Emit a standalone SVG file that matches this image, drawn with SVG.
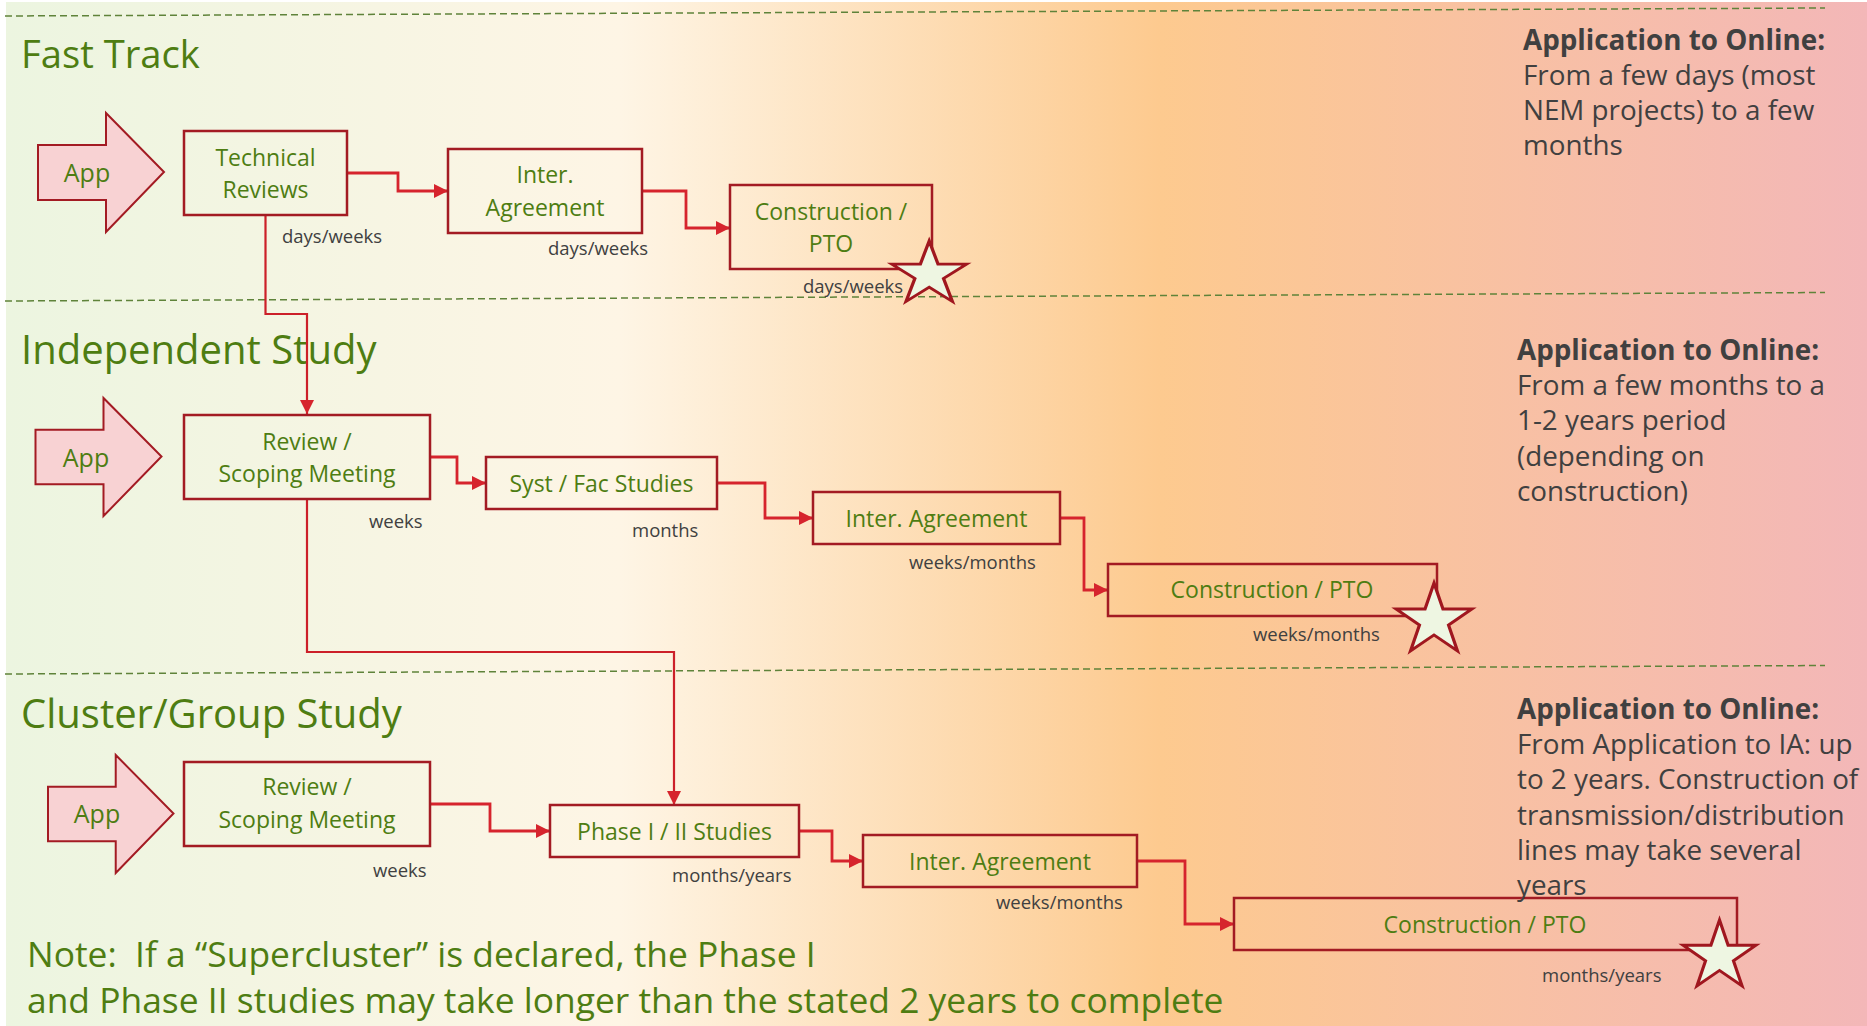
<svg xmlns="http://www.w3.org/2000/svg" xmlns:xlink="http://www.w3.org/1999/xlink" width="1867" height="1026" viewBox="0 0 1867 1026">
<defs>
<linearGradient id="bg" x1="0" y1="0" x2="1" y2="0">
<stop offset="0" stop-color="#ecf5e0"/>
<stop offset="0.33" stop-color="#fef5e5"/>
<stop offset="0.62" stop-color="#fdca8f"/>
<stop offset="1" stop-color="#f3b7b8"/>
</linearGradient>
<marker id="ah" markerUnits="userSpaceOnUse" markerWidth="15" markerHeight="15" refX="14" refY="7" orient="auto">
<path d="M0,0 L14,7 L0,14 Z" fill="#d6242d"/>
</marker>
<path id="star" d="M50,0 L61.8,38.2 L100,38.2 L69.1,61.8 L80.9,100 L50,76.4 L19.1,100 L30.9,61.8 L0,38.2 L38.2,38.2 Z"/>
<path id="apparrow" d="M0,32 H68 V0 L126,59 L68,119 V87 H0 Z"/>
</defs>
<style>
.box{fill:none;stroke:#a31b23;stroke-width:2.5}
.app{fill:#f8d2d3;stroke:#a31b23;stroke-width:2}
.star{fill:#eef6e2;stroke:#a0171f;stroke-linejoin:miter}
.t{font-family:"Open Sans","Noto Sans",sans-serif;fill:#4e7d12}
.bt{font-size:23px;text-anchor:middle}
.title{font-size:40px}
.lbl{font-family:"Open Sans","Noto Sans",sans-serif;font-size:18.5px;fill:#404040}
.side{font-family:"Open Sans","Noto Sans",sans-serif;font-size:27.8px;fill:#404040}
.sideh{font-weight:bold}
.dash{stroke:#5f833a;stroke-width:1.5;stroke-dasharray:7 4;fill:none}
.con{fill:none;stroke:#d6242d;stroke-width:2.8;marker-end:url(#ah)}
.con2{fill:none;stroke:#cc2029;stroke-width:2.2;marker-end:url(#ah)}
.note{font-size:35.4px}
</style>
<rect x="0" y="0" width="1867" height="1026" fill="#ffffff"/>
<rect x="6" y="2" width="1861" height="1024" fill="url(#bg)"/>
<g id="separators">
<line class="dash" x1="5" y1="16" x2="1825" y2="8"/>
<line class="dash" x1="5" y1="301" x2="1825" y2="292.5"/>
<line class="dash" x1="5" y1="674" x2="1825" y2="665.5"/>
</g>
<g id="titles">
<text class="t title" x="21" y="68" style="font-size:38.2px">Fast Track</text>
<text class="t title" x="21" y="364">Independent Study</text>
<text class="t title" x="21" y="728">Cluster/Group Study</text>
</g>
<g id="connectors">
<path class="con" d="M347,173 H398 V191 H448"/>
<path class="con" d="M642,191 H686 V228 H730"/>
<path class="con2" d="M265.5,215 V314 H307 V414"/>
<path class="con" d="M430,457 H457 V483 H486"/>
<path class="con" d="M717,483 H765 V518 H813"/>
<path class="con" d="M1060,518 H1084 V590 H1108"/>
<path class="con2" d="M307,499 V652 H674 V805"/>
<path class="con" d="M430,804 H490 V831 H550"/>
<path class="con" d="M799,831 H832 V861 H863"/>
<path class="con" d="M1137,861 H1185 V924 H1234"/>
</g>
<g id="ft-app"><use href="#apparrow" class="app" transform="translate(38,113)"/><text class="t bt" x="87" y="182" style="font-size:25px">App</text></g>
<g id="ft-tech"><rect class="box" x="184" y="131" width="163" height="84"/><text class="t bt" x="265.5" y="166">Technical</text><text class="t bt" x="265.5" y="198">Reviews</text></g>
<g id="ft-ia"><rect class="box" x="448" y="149" width="194" height="84"/><text class="t bt" x="545" y="183">Inter.</text><text class="t bt" x="545" y="216">Agreement</text></g>
<g id="ft-cons"><rect class="box" x="730" y="185" width="202" height="84"/><text class="t bt" x="831" y="220">Construction /</text><text class="t bt" x="831" y="252">PTO</text></g>
<g id="ft-labels">
<text class="lbl" x="282" y="243">days/weeks</text>
<text class="lbl" x="548" y="255">days/weeks</text>
<text class="lbl" x="803" y="293">days/weeks</text>
</g>
<g id="ft-star"><use href="#star" class="star" transform="translate(891.7,241) scale(0.75,0.605)" style="stroke-width:4.4"/></g>
<g id="ft-summary">
<text class="side sideh" x="1523" y="49.5">Application to Online:</text>
<text class="side" x="1523" y="84.5">From a few days (most</text>
<text class="side" x="1523" y="119.5">NEM projects) to a few</text>
<text class="side" x="1523" y="154.5">months</text>
</g>
<g id="is-app"><use href="#apparrow" class="app" transform="translate(35.5,398) scale(1,0.992)"/><text class="t bt" x="86" y="467" style="font-size:25px">App</text></g>
<g id="is-review"><rect class="box" x="184" y="415" width="246" height="84"/><text class="t bt" x="307" y="450">Review /</text><text class="t bt" x="307" y="482">Scoping Meeting</text></g>
<g id="is-syst"><rect class="box" x="486" y="457" width="231" height="52"/><text class="t bt" x="601.5" y="492">Syst / Fac Studies</text></g>
<g id="is-ia"><rect class="box" x="813" y="492" width="247" height="52"/><text class="t bt" x="936.5" y="527">Inter. Agreement</text></g>
<g id="is-cons"><rect class="box" x="1108" y="564" width="329" height="52"/><text class="t bt" x="1272" y="598">Construction / PTO</text></g>
<g id="is-labels">
<text class="lbl" x="369" y="528">weeks</text>
<text class="lbl" x="632" y="537">months</text>
<text class="lbl" x="909" y="569">weeks/months</text>
<text class="lbl" x="1253" y="641">weeks/months</text>
</g>
<g id="is-star"><use href="#star" class="star" transform="translate(1396,583) scale(0.76,0.68)" style="stroke-width:4.2"/></g>
<g id="is-summary">
<text class="side sideh" x="1517" y="359.5">Application to Online:</text>
<text class="side" x="1517" y="394.5">From a few months to a</text>
<text class="side" x="1517" y="430">1-2 years period</text>
<text class="side" x="1517" y="465.5">(depending on</text>
<text class="side" x="1517" y="500.5">construction)</text>
</g>
<g id="cl-app"><use href="#apparrow" class="app" transform="translate(48,755) scale(0.996,0.992)"/><text class="t bt" x="97" y="823" style="font-size:25px">App</text></g>
<g id="cl-review"><rect class="box" x="184" y="762" width="246" height="84"/><text class="t bt" x="307" y="795">Review /</text><text class="t bt" x="307" y="828">Scoping Meeting</text></g>
<g id="cl-phase"><rect class="box" x="550" y="805" width="249" height="52"/><text class="t bt" x="674.5" y="840">Phase I / II Studies</text></g>
<g id="cl-ia"><rect class="box" x="863" y="835" width="274" height="52"/><text class="t bt" x="1000" y="870">Inter. Agreement</text></g>
<g id="cl-cons"><rect class="box" x="1234" y="898" width="503" height="52"/><text class="t bt" x="1485" y="933">Construction / PTO</text></g>
<g id="cl-labels">
<text class="lbl" x="373" y="877">weeks</text>
<text class="lbl" x="672" y="882">months/years</text>
<text class="lbl" x="996" y="909">weeks/months</text>
<text class="lbl" x="1542" y="982">months/years</text>
</g>
<g id="cl-star"><use href="#star" class="star" transform="translate(1683,920) scale(0.73,0.66)" style="stroke-width:4.3"/></g>
<g id="cl-summary">
<text class="side sideh" x="1517" y="718.5">Application to Online:</text>
<text class="side" x="1517" y="753.5">From Application to IA: up</text>
<text class="side" x="1517" y="789">to 2 years. Construction of</text>
<text class="side" x="1517" y="824.5">transmission/distribution</text>
<text class="side" x="1517" y="860">lines may take several</text>
<text class="side" x="1517" y="895">years</text>
</g>
<g id="note">
<text class="t note" x="27" y="967">Note:&#160; If a “Supercluster” is declared, the Phase I</text>
<text class="t note" x="27" y="1013">and Phase II studies may take longer than the stated 2 years to complete</text>
</g>
</svg>
